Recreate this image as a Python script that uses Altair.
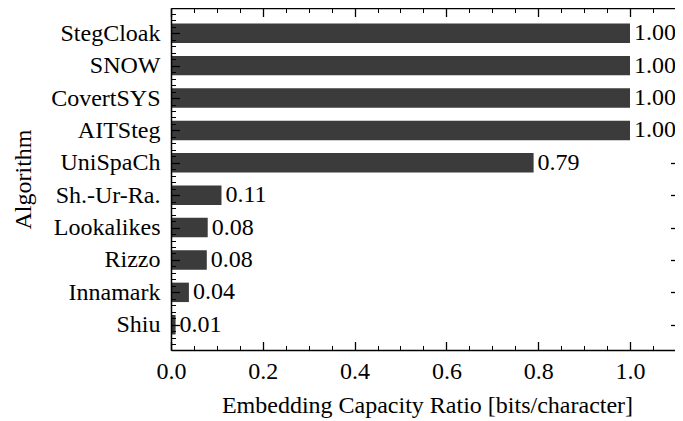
import json
import altair as alt
import pandas as pd

# ---- data ----
algorithms = ["StegCloak", "SNOW", "CovertSYS", "AITSteg", "UniSpaCh",
              "Sh.-Ur-Ra.", "Lookalikes", "Rizzo", "Innamark", "Shiu"]
capacity = [1.00, 1.00, 1.00, 1.00, 0.79, 0.11, 0.08, 0.078, 0.039, 0.01]

x_major = [0.0, 0.2, 0.4, 0.6, 0.8, 1.0]
x_minor = [0.05, 0.1, 0.15, 0.25, 0.3, 0.35, 0.45, 0.5, 0.55, 0.65, 0.7, 0.75,
           0.85, 0.9, 0.95, 1.05]
y_major = list(range(len(algorithms)))
y_right = [4, 5, 6, 7, 8, 9]
y_minor = [round(i / 5, 1) for i in range(-3, 49) if i % 5 != 0]

x_title = "Embedding Capacity Ratio [bits/character]"
y_title = "Algorithm"

# ---- layout ----
W, H = 504, 342
FONT = "Liberation Serif, Times New Roman, Tinos, DejaVu Serif, serif"
FS = 24
BAR = "#3b3b3b"
MAJ, MIN = 8.5, 4.5

df = pd.DataFrame({"algorithm": algorithms, "cap": capacity, "idx": y_major})

xs = alt.Scale(domain=[0, W / 459.0], nice=False, zero=False)
ys = alt.Scale(domain=[-0.78, 9.78], nice=False, zero=False, reverse=True)

label_expr = json.dumps(algorithms) + "[datum.value]"

main_x = alt.Axis(orient="bottom", values=x_major, format=".1f", ticks=False, tickSize=0,
                  labelFont=FONT, labelFontSize=FS, labelColor="black", labelPadding=9,
                  labelFlush=False, labelOverlap=False,
                  domain=True, domainColor="black", domainWidth=1.5, grid=False,
                  title=x_title, titleFont=FONT, titleFontSize=FS, titleFontWeight="normal",
                  titleColor="black", titleX=256, titleY=43, titleBaseline="top", zindex=1)
main_y = alt.Axis(orient="left", values=y_major, labelExpr=label_expr, ticks=False, tickSize=0,
                  labelFont=FONT, labelFontSize=FS, labelColor="black", labelPadding=11,
                  labelOverlap=False, labelFlush=False,
                  domain=True, domainColor="black", domainWidth=1.5, grid=False,
                  title=y_title, titleFont=FONT, titleFontSize=FS, titleFontWeight="normal",
                  titleColor="black", titleX=-136, titleY=H / 2, zindex=1)


def tick_axis(orient, values, size, width, domain=False):
    return alt.Axis(orient=orient, offset=-(H if orient in ("top", "bottom") else W),
                    values=values, labels=False, ticks=True, tickSize=size,
                    tickWidth=width, tickColor="black", domain=domain,
                    domainColor="black", domainWidth=1.5, grid=False, title=None, zindex=1)


bottom_major = tick_axis("top", x_major, MAJ, 1.3)
bottom_minor = tick_axis("top", x_minor, MIN, 1.0)
top_major = tick_axis("bottom", x_major, MAJ, 1.3, domain=True)
top_minor = tick_axis("bottom", x_minor, MIN, 1.0)
left_major = tick_axis("right", y_major, MAJ, 1.3)
left_minor = tick_axis("right", y_minor, MIN, 1.0)
right_major = tick_axis("left", y_right, 4.5, 1.3)

base = alt.Chart(df).transform_calculate(
    lo="datum.idx - 0.3", hi="datum.idx + 0.3", zero="0"
)

bars = base.mark_rect(color=BAR).encode(
    x=alt.X("zero:Q", scale=xs, axis=main_x),
    x2="cap:Q",
    y=alt.Y("lo:Q", scale=ys, axis=main_y),
    y2="hi:Q",
)

labels = base.mark_text(align="left", baseline="middle", dx=4, font=FONT,
                        fontSize=FS, color="black").encode(
    x=alt.X("cap:Q", scale=xs, axis=bottom_major),
    y=alt.Y("idx:Q", scale=ys, axis=left_major),
    text=alt.Text("cap:Q", format=".2f"),
)

inv1 = base.mark_point(opacity=0).encode(
    x=alt.X("cap:Q", scale=xs, axis=bottom_minor),
    y=alt.Y("idx:Q", scale=ys, axis=left_minor),
)
inv2 = base.mark_point(opacity=0).encode(
    x=alt.X("cap:Q", scale=xs, axis=top_major),
    y=alt.Y("idx:Q", scale=ys, axis=right_major),
)
inv3 = base.mark_point(opacity=0).encode(
    x=alt.X("cap:Q", scale=xs, axis=top_minor),
    y=alt.Y("idx:Q", scale=ys, axis=None),
)

chart = alt.layer(bars, labels, inv1, inv2, inv3).resolve_axis(
    x="independent", y="independent"
).properties(
    width=W, height=H,
    autosize=alt.AutoSizeParams(type="none"),
    padding={"left": 163, "top": 0, "right": 0, "bottom": 68},
    background="white",
).configure_view(stroke=None)

chart.save("out.html", embed_options={"renderer": "svg", "actions": False})
